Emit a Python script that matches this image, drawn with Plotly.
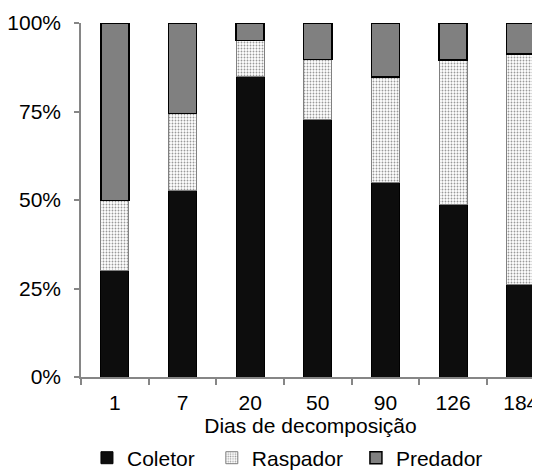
import plotly.graph_objects as go

categories = ["1", "7", "20", "50", "90", "126", "184"]
coletor = [30.0, 52.8, 85.0, 72.8, 55.0, 48.6, 26.0]
raspador = [19.8, 21.7, 10.0, 16.9, 29.8, 40.9, 65.2]
predador = [50.2, 25.5, 5.0, 10.3, 15.2, 10.5, 8.8]
y_ticks = [0, 25, 50, 75, 100]
y_tick_labels = ["0%", "25%", "50%", "75%", "100%"]

FONT = "Arial, Liberation Sans, sans-serif"

fig = go.Figure()
fig.add_trace(go.Bar(
    x=categories, y=coletor, name="Coletor", legend="legend",
    marker=dict(color="#0d0d0d", line=dict(color="#000000", width=1)),
))
fig.add_trace(go.Bar(
    x=categories, y=raspador, name="Raspador", legend="legend2",
    marker=dict(color="#ffffff", line=dict(color="#808080", width=1),
                pattern=dict(shape=".", fgcolor="#333333", bgcolor="#ffffff",
                             size=3, solidity=0.3)),
))
fig.add_trace(go.Bar(
    x=categories, y=predador, name="Predador", legend="legend3",
    marker=dict(color="#808080", line=dict(color="#000000", width=1.5)),
))

leg_common = dict(orientation="h", xanchor="left", y=-0.229, yanchor="middle",
                  font=dict(size=21), itemwidth=30, bgcolor="rgba(0,0,0,0)")

# page body has an 8px default margin; the figure is offset accordingly
fig.update_layout(
    width=540, height=462,
    barmode="stack", bargap=0.585,
    paper_bgcolor="white", plot_bgcolor="white",
    margin=dict(l=73, r=8, t=15, b=93, autoexpand=False),
    font=dict(family=FONT, size=21, color="#000000"),
    showlegend=True,
    legend=dict(x=0.013, **leg_common),
    legend2=dict(x=0.285, **leg_common),
    legend3=dict(x=0.599, **leg_common),
)
fig.update_xaxes(
    type="category", range=[-0.5, 6.285], automargin=False,
    showline=True, linecolor="#868686", linewidth=1.5,
    ticks="outside", ticklen=6, tickcolor="#868686", tickwidth=1.5,
    tickson="boundaries", showgrid=False, zeroline=False,
    ticklabelstandoff=6,
    title=dict(text="Dias de decomposição", standoff=4, font=dict(size=21)),
)
fig.update_yaxes(
    range=[0, 100], tickvals=y_ticks, ticktext=y_tick_labels, automargin=False,
    showline=True, linecolor="#868686", linewidth=1.5,
    ticks="outside", ticklen=5, tickcolor="#868686", tickwidth=1.5,
    showgrid=False, zeroline=False, ticklabelstandoff=9,
)

fig.write_html("out.html")
